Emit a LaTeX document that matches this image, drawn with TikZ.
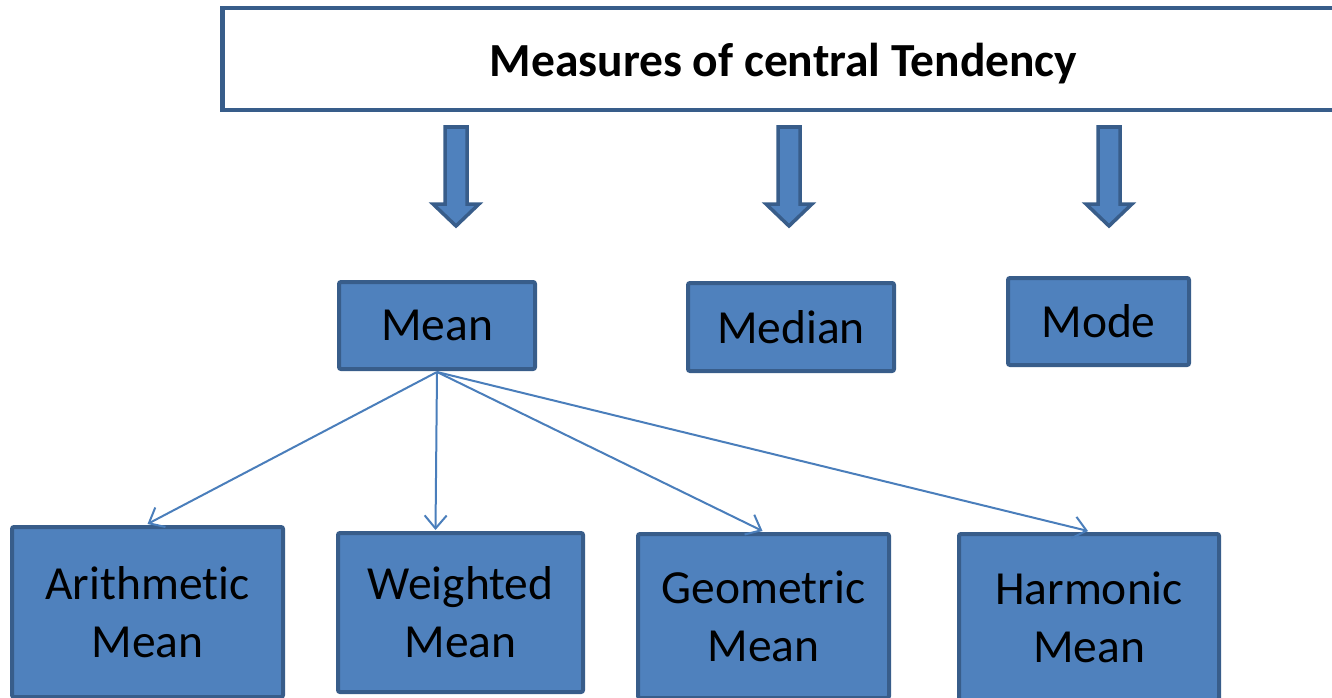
\documentclass[tikz,border=0pt]{standalone}
\usepackage{fontspec}
\setmainfont{Carlito}[Ligatures=NoCommon]
\usetikzlibrary{arrows.meta,calc}
\definecolor{bord}{HTML}{385D8A}
\definecolor{fillc}{HTML}{4F81BD}
\definecolor{linec}{HTML}{4A7EBB}
\tikzset{
  box/.style={draw=bord, fill=fillc, line width=4pt, inner sep=0pt, rounded corners=2pt,
    align=center, font=\fontsize{47.5}{58}\selectfont, text=black},
  blockarrow/.style={draw=bord, fill=fillc, line width=3.5pt, line join=miter},
  conn/.style={draw=linec, line width=2pt, -{Straight Barb[length=13pt,width=22pt,line width=2pt]}}
}
\begin{document}
\begin{tikzpicture}[x=1pt,y=-1pt]
\useasboundingbox (0,0) rectangle (1332,698);
\clip (0,0) rectangle (1332,698);
\node[draw=bord, fill=white, line width=4.5pt, inner sep=0pt, minimum width=1122pt, minimum height=102pt,
  font=\fontsize{47.5}{56}\selectfont\bfseries] (title) at (783.5,59) {\raisebox{-5pt}[\height][\depth]{Measures of central Tendency}};
% block arrows
\foreach \cx/\nm in {456/a1, 789/a2, 1109/a3}{
  \draw[blockarrow] (\cx-11,127) -- (\cx+11,127) -- (\cx+11,204) -- (\cx+23,204) -- (\cx,226)
    -- (\cx-23,204) -- (\cx-11,204) -- cycle;
}
\node[box, minimum width=196pt, minimum height=87pt] (mean) at (437,325.5) {Mean};
\node[box, minimum width=206pt, minimum height=88pt] (median) at (791,327) {Median};
\node[box, minimum width=181pt, minimum height=87pt] (mode) at (1098.5,321.5) {Mode};
\node[box, minimum width=271pt, minimum height=170pt] (am) at (147.5,612) {Arithmetic\\Mean};
\node[box, minimum width=245pt, minimum height=159pt] (wm) at (460.5,612.5) {Weighted\\Mean};
\node[box, minimum width=251pt, minimum height=164pt] (gm) at (763.5,616) {Geometric\\Mean};
\node[box, minimum width=260pt, minimum height=166pt] (hm) at (1089,617) {Harmonic\\Mean};
\coordinate (src) at ($(mean.south)+(0,1)$);
\draw[conn] (src) -- ($(am.north)+(0,-1)$);
\draw[conn] (src) -- ($(wm.north)+(-25,-1)$);
\draw[conn] (src) -- ($(gm.north)+(-1,-1)$);
\draw[conn] (src) -- ($(hm.north)+(-1,-1)$);
\end{tikzpicture}
\end{document}
